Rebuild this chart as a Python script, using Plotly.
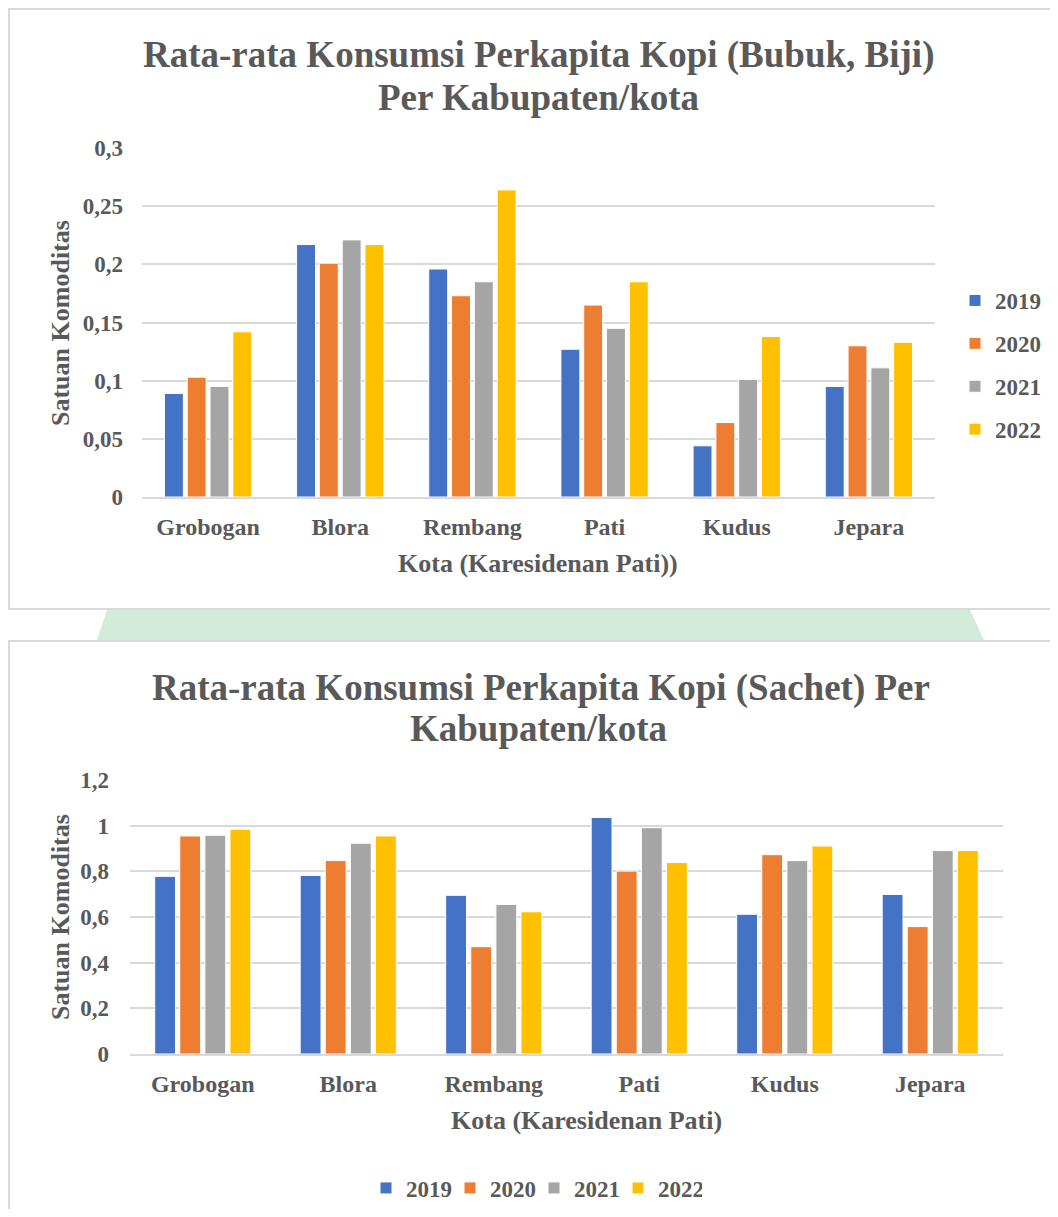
import plotly.graph_objects as go

# Page body has an 8px margin, so the figure is 16px smaller than the window
OFF = 8
W, H = 1058 - 2 * OFF, 1217 - 2 * OFF

cities = ["Grobogan", "Blora", "Rembang", "Pati", "Kudus", "Jepara"]
years = ["2019", "2020", "2021", "2022"]
colors = ["#4472C4", "#ED7D31", "#A5A5A5", "#FFC000"]

bubuk_2019 = [0.089, 0.217, 0.196, 0.127, 0.044, 0.095]
bubuk_2020 = [0.103, 0.201, 0.173, 0.165, 0.064, 0.130]
bubuk_2021 = [0.095, 0.221, 0.185, 0.145, 0.101, 0.111]
bubuk_2022 = [0.142, 0.217, 0.264, 0.185, 0.138, 0.133]

sachet_2019 = [0.778, 0.782, 0.695, 1.036, 0.612, 0.699]
sachet_2020 = [0.955, 0.847, 0.470, 0.801, 0.873, 0.558]
sachet_2021 = [0.958, 0.923, 0.655, 0.991, 0.847, 0.891]
sachet_2022 = [0.984, 0.955, 0.623, 0.839, 0.911, 0.891]

ticks1 = [0, 0.05, 0.1, 0.15, 0.2, 0.25, 0.3]
ticklabels1 = ["0", "0,05", "0,1", "0,15", "0,2", "0,25", "0,3"]
ticks2 = [0, 0.2, 0.4, 0.6, 0.8, 1.0, 1.2]
ticklabels2 = ["0", "0,2", "0,4", "0,6", "0,8", "1", "1,2"]

title1 = ["Rata-rata Konsumsi Perkapita Kopi (Bubuk, Biji)", "Per Kabupaten/kota"]
title2 = ["Rata-rata Konsumsi Perkapita Kopi (Sachet) Per", "Kabupaten/kota"]
xtitle1 = "Kota (Karesidenan Pati))"
xtitle2 = "Kota (Karesidenan Pati)"
ytitle = "Satuan Komoditas"

FONT = "Liberation Serif"
TXT = "#595959"
GRID = "#d9d9d9"

def px(x):
    return (x - OFF) / W

def py(y):
    return 1 - (y - OFF) / H

fig = go.Figure()

for i, (yr, vals) in enumerate(zip(years, [bubuk_2019, bubuk_2020, bubuk_2021, bubuk_2022])):
    fig.add_trace(go.Bar(x=cities, y=vals, name=yr, marker=dict(color=colors[i], line=dict(color="white", width=1)),
                         xaxis="x", yaxis="y", legend="legend", legendgroup="a" + yr))
for i, (yr, vals) in enumerate(zip(years, [sachet_2019, sachet_2020, sachet_2021, sachet_2022])):
    fig.add_trace(go.Bar(x=cities, y=vals, name=yr, marker=dict(color=colors[i], line=dict(color="white", width=1)),
                         xaxis="x2", yaxis="y2", legend="legend2", legendgroup="b" + yr))

tickfont_y = dict(family=FONT, size=23, color=TXT, weight="bold")
tickfont_x = dict(family=FONT, size=24, color=TXT, weight="bold")

axis_common = dict(showgrid=False, showline=True, linecolor=GRID, linewidth=2, ticks="", tickfont=tickfont_x,
                   fixedrange=True, ticklabelstandoff=7)
yaxis_common = dict(showgrid=True, gridcolor=GRID, gridwidth=2, zeroline=False, showline=False, ticks="",
                    tickfont=tickfont_y, tickmode="array", fixedrange=True)

fig.update_layout(
    width=W, height=H,
    margin=dict(l=0, r=0, t=0, b=0, autoexpand=False),
    paper_bgcolor="white", plot_bgcolor="white",
    barmode="group", bargap=0.31, bargroupgap=0.17,
    xaxis=dict(domain=[px(142), px(935)], anchor="y", **axis_common),
    yaxis=dict(domain=[py(497), py(148)], anchor="x", range=[0, 0.3], tickvals=ticks1, ticktext=ticklabels1,
               ticklabelstandoff=18, **yaxis_common),
    xaxis2=dict(domain=[px(130), px(1003)], anchor="y2", **axis_common),
    yaxis2=dict(domain=[py(1054), py(780)], anchor="x2", range=[0, 1.2], tickvals=ticks2, ticktext=ticklabels2,
                ticklabelstandoff=20, **yaxis_common),
    legend=dict(x=px(1046), y=py(365), xanchor="right", yanchor="middle", orientation="v",
                font=dict(family=FONT, size=23, color=TXT, weight="bold"), tracegroupgap=10,
                bgcolor="rgba(0,0,0,0)"),
    legend2=dict(x=px(534), y=py(1188), xanchor="center", yanchor="middle", orientation="h",
                 font=dict(family=FONT, size=23, color=TXT, weight="bold"), entrywidth=39, entrywidthmode="pixels",
                 bgcolor="rgba(0,0,0,0)"),
    showlegend=True,
)

shapes = [
    dict(type="rect", xref="paper", yref="paper", x0=px(9), x1=px(1100), y0=py(9), y1=py(609),
         line=dict(color=GRID, width=2), layer="below"),
    dict(type="rect", xref="paper", yref="paper", x0=px(9), x1=px(1100), y0=py(641), y1=py(1260),
         line=dict(color=GRID, width=2), layer="below"),
    dict(type="path", xref="paper", yref="paper",
         path=f"M {px(107)} {py(610)} L {px(970)} {py(610)} L {px(984)} {py(640)} L {px(97)} {py(640)} Z",
         fillcolor="#d3ecda", line=dict(width=0), layer="below"),
]
fig.update_layout(shapes=shapes)

anns = []
def ann(text, x, y, size, angle=0):
    anns.append(dict(text=text, x=px(x), y=py(y), xref="paper", yref="paper", showarrow=False,
                     xanchor="center", yanchor="middle", textangle=angle,
                     font=dict(family=FONT, size=size, color=TXT, weight="bold")))

ann(title1[0], 538, 55, 37)
ann(title1[1], 538, 98, 37)
ann(xtitle1, 538, 563, 26)
ann(ytitle, 60, 323, 26, -90)
ann(title2[0], 541, 688, 37)
ann(title2[1], 538, 728, 37)
ann(xtitle2, 586, 1120, 26)
ann(ytitle, 60, 917, 26, -90)
fig.update_layout(annotations=anns)

fig.write_html("out.html")
